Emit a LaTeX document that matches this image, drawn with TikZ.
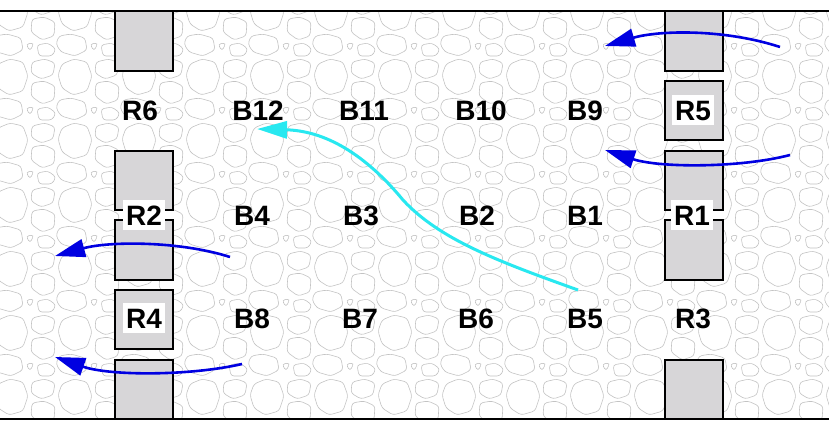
\documentclass[tikz,border=0pt]{standalone}
\usepackage{fontspec}
\setmainfont{Liberation Sans}
\usetikzlibrary{positioning, arrows.meta}
\definecolor{pier}{RGB}{215,214,216}
\definecolor{stonegray}{RGB}{195,195,195}
\definecolor{flowblue}{RGB}{0,0,225}
\definecolor{jetcyan}{RGB}{40,232,240}

\begin{document}
\begin{tikzpicture}[x=1pt, y=-1pt,
    lbl/.style={font=\bfseries\fontsize{28}{28}\selectfont, text height=20pt, text depth=0pt, inner sep=0pt},
    lblbox/.style={lbl, fill=white, inner xsep=3pt, inner ysep=5pt},
    pierbox/.style={fill=pier, draw=black, line width=1.1pt},
    stoneline/.style={draw=stonegray, line width=0.6pt, rounded corners=3pt},
    flow/.style={draw=flowblue, line width=2.6pt, -{Triangle[length=30pt, width=18pt]}},
    jet/.style={draw=jetcyan, line width=3pt, -{Triangle[length=30pt, width=17pt]}}]
    \useasboundingbox (0,0) rectangle (829,431);
    \fill[white] (0,0) rectangle (829,431);

    % gravel bed
    \begin{scope}
        \clip (0,11) rectangle (829,419);
        \foreach \i in {0,...,13} {
            \foreach \j in {0,...,6} {
                \begin{scope}[shift={(64*\i-8, 64*\j-6)}]
                    \draw[stoneline] (6,6) -- (18,1) -- (31,4) -- (36,18) -- (31,33) -- (17,37) -- (6,30) -- (2,17) -- cycle;
                    \draw[stoneline] (40,4) -- (53,1) -- (63,5) -- (61,17) -- (49,21) -- (39,15) -- cycle;
                    \draw[stoneline] (40,25) -- (52,23) -- (63,28) -- (62,42) -- (50,46) -- (39,38) -- cycle;
                    \draw[stoneline] (3,42) -- (15,40) -- (29,44) -- (31,56) -- (19,62) -- (5,58) -- (0,50) -- cycle;
                    \draw[stoneline] (34,50) -- (42,49) -- (38,57) -- cycle;
                    \draw[stoneline] (45,51) -- (56,49) -- (64,55) -- (60,62) -- (47,62) -- cycle;
                \end{scope}
            }
        }
    \end{scope}

    % banks
    \draw[line width=1.1pt] (0,11) -- (829,11);
    \draw[line width=1.1pt] (0,419) -- (829,419);

    % piers
    \foreach \ya/\yb in {11/71, 151/210, 220/280, 290/349, 360/419}
        \draw[pierbox] (115,\ya) rectangle (173,\yb);
    \foreach \ya/\yb in {11/71, 81/140, 151/210, 220/280, 360/419}
        \draw[pierbox] (665,\ya) rectangle (723,\yb);

    % labels
    \node[lbl] (r6) at (140,110) {R6};
    \node[lbl] (b12) at (258,110) {B12};
    \node[lbl] (b11) at (364,110) {B11};
    \node[lbl] (b10) at (481,110) {B10};
    \node[lbl] (b9) at (585,110) {B9};
    \node[lblbox] (r5) at (693,110) {R5};

    \node[lblbox] (r2) at (144,215) {R2};
    \node[lbl] (b4) at (252,215) {B4};
    \node[lbl] (b3) at (361,215) {B3};
    \node[lbl] (b2) at (477,215) {B2};
    \node[lbl] (b1) at (585,215) {B1};
    \node[lblbox] (r1) at (692,215) {R1};

    \node[lblbox] (r4) at (144,318) {R4};
    \node[lbl] (b8) at (252,318) {B8};
    \node[lbl] (b7) at (360,318) {B7};
    \node[lbl] (b6) at (476,318) {B6};
    \node[lbl] (b5) at (585,318) {B5};
    \node[lbl] (r3) at (693,318) {R3};

    % flow arrows
    \coordinate (f1s) at (780,47);
    \coordinate (f1e) at (605,46);
    \coordinate (f2s) at (790,155);
    \coordinate (f2e) at (605,150);
    \coordinate (f3s) at (230,257);
    \coordinate (f3e) at (55,256);
    \coordinate (f4s) at (242,364);
    \coordinate (f4e) at (55,357);
    \draw[flow] (f1s) .. controls (725,29) and (660,30) .. (f1e);
    \draw[flow] (f2s) .. controls (740,168) and (660,168) .. (f2e);
    \draw[flow] (f3s) .. controls (180,241) and (110,241) .. (f3e);
    \draw[flow] (f4s) .. controls (190,376) and (110,376) .. (f4e);

    % jet path
    \coordinate (jets) at (578,290);
    \coordinate (jete) at (257,129);
    \draw[jet] (jets) .. controls (500,262) and (440,240) .. (403,200)
        .. controls (370,160) and (330,131) .. (jete);
\end{tikzpicture}
\end{document}
